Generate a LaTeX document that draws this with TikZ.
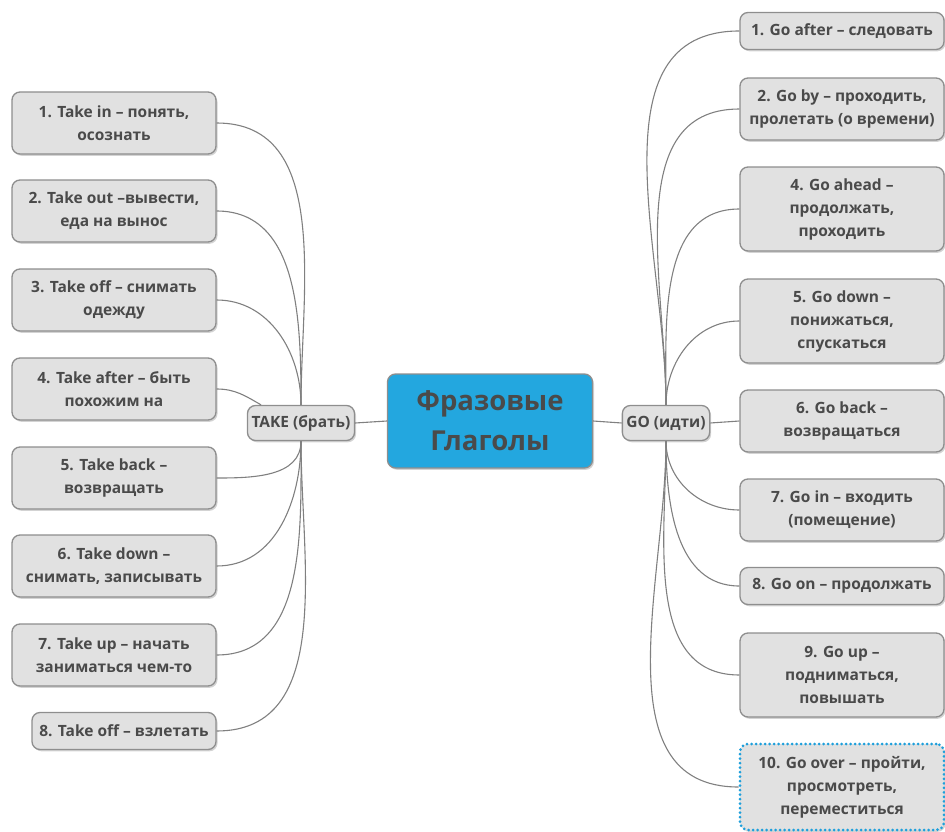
\documentclass[tikz,border=0pt]{standalone}
\usepackage{fontspec}
\setmainfont{Open Sans}
\usetikzlibrary{shadows}
\definecolor{boxfill}{HTML}{E1E1E1}
\definecolor{boxline}{HTML}{8E8E8E}
\definecolor{txt}{HTML}{4A4A4A}
\definecolor{wire}{HTML}{808080}
\definecolor{mainblue}{HTML}{23A7DF}
\definecolor{dotblue}{HTML}{1E9FDB}
\tikzset{
  box/.style={draw=boxline, fill=boxfill, line width=1.3pt, rounded corners=8pt,
    text=txt, font=\fontsize{15.5}{23}\selectfont\bfseries, align=center,
    inner sep=2pt, minimum width=204pt,
    drop shadow={shadow xshift=1.5pt, shadow yshift=-1.8pt, opacity=0.35}},
  hub/.style={box, minimum width=0pt, minimum height=35pt, inner xsep=4pt},
  wire/.style={draw=wire, line width=1.1pt}
}
\begin{document}
\begin{tikzpicture}[x=1pt,y=-1pt]
  \useasboundingbox (0,0) rectangle (945,832);

  % Centre and branches
  \node[box, fill=mainblue, minimum width=205pt, minimum height=94pt,
    font=\fontsize{27.5}{40}\selectfont\bfseries] (main) at (490,421) {Фразовые\\Глаголы};
  \node[hub] (take) at (301,423) {TAKE (брать)};
  \node[hub] (go) at (666,423) {GO (идти)};
  \draw[wire] (take.east) -- (main.west);
  \draw[wire] (main.east) -- (go.west);

  % TAKE leaves
  \node[box, minimum height=62pt] (t1) at (114,123) {1. Take in – понять,\\осознать};
  \node[box, minimum height=62pt] (t2) at (114,211) {2. Take out –вывести,\\еда на вынос};
  \node[box, minimum height=62pt] (t3) at (114,300) {3. Take off – снимать\\одежду};
  \node[box, minimum height=62pt] (t4) at (114,389) {4. Take after – быть\\похожим на};
  \node[box, minimum height=62pt] (t5) at (114,478) {5. Take back –\\возвращать};
  \node[box, minimum height=62pt] (t6) at (114,566) {6. Take down –\\снимать, записывать};
  \node[box, minimum height=62pt] (t7) at (114,655) {7. Take up – начать\\заниматься чем-то};
  \node[box, minimum height=37pt, minimum width=184pt] (t8) at (124,731) {8. Take off – взлетать};

  % GO leaves
  \node[box, minimum height=37pt] (g1) at (842,31) {1. Go after – следовать};
  \node[box, minimum height=62pt] (g2) at (842,109) {2. Go by – проходить,\\пролетать (о времени)};
  \node[box, minimum height=84pt] (g3) at (842,209) {4. Go ahead –\\продолжать,\\проходить};
  \node[box, minimum height=84pt] (g4) at (842,321) {5. Go down –\\понижаться,\\спускаться};
  \node[box, minimum height=62pt] (g5) at (842,421) {6. Go back –\\возвращаться};
  \node[box, minimum height=62pt] (g6) at (842,510) {7. Go in – входить\\(помещение)};
  \node[box, minimum height=37pt] (g7) at (842,586) {8. Go on – продолжать};
  \node[box, minimum height=84pt] (g8) at (842,675) {9. Go up –\\подниматься,\\повышать};
  \node[box, minimum height=86pt, draw=dotblue, line width=3pt, line cap=round,
    dash pattern=on 0pt off 4.5pt] (g9) at (842,787) {10. Go over – пройти,\\просмотреть,\\переместиться};

  % Connectors left
  \foreach \n in {t1,t2,t3}
    \draw[wire] (take.north) to[out=90, in=0] (\n.east);
  \draw[wire] ([xshift=-40pt]take.north) to[out=150, in=0] (t4.east);
  \foreach \n in {t5,t6,t7,t8}
    \draw[wire] (take.south) to[out=-90, in=0] (\n.east);

  % Connectors right
  \foreach \n in {g1,g2,g3,g4}
    \draw[wire] (go.north) to[out=90, in=180] (\n.west);
  \draw[wire] (go.east) -- (g5.west);
  \foreach \n in {g6,g7,g8,g9}
    \draw[wire] (go.south) to[out=-90, in=180] (\n.west);
\end{tikzpicture}
\end{document}
